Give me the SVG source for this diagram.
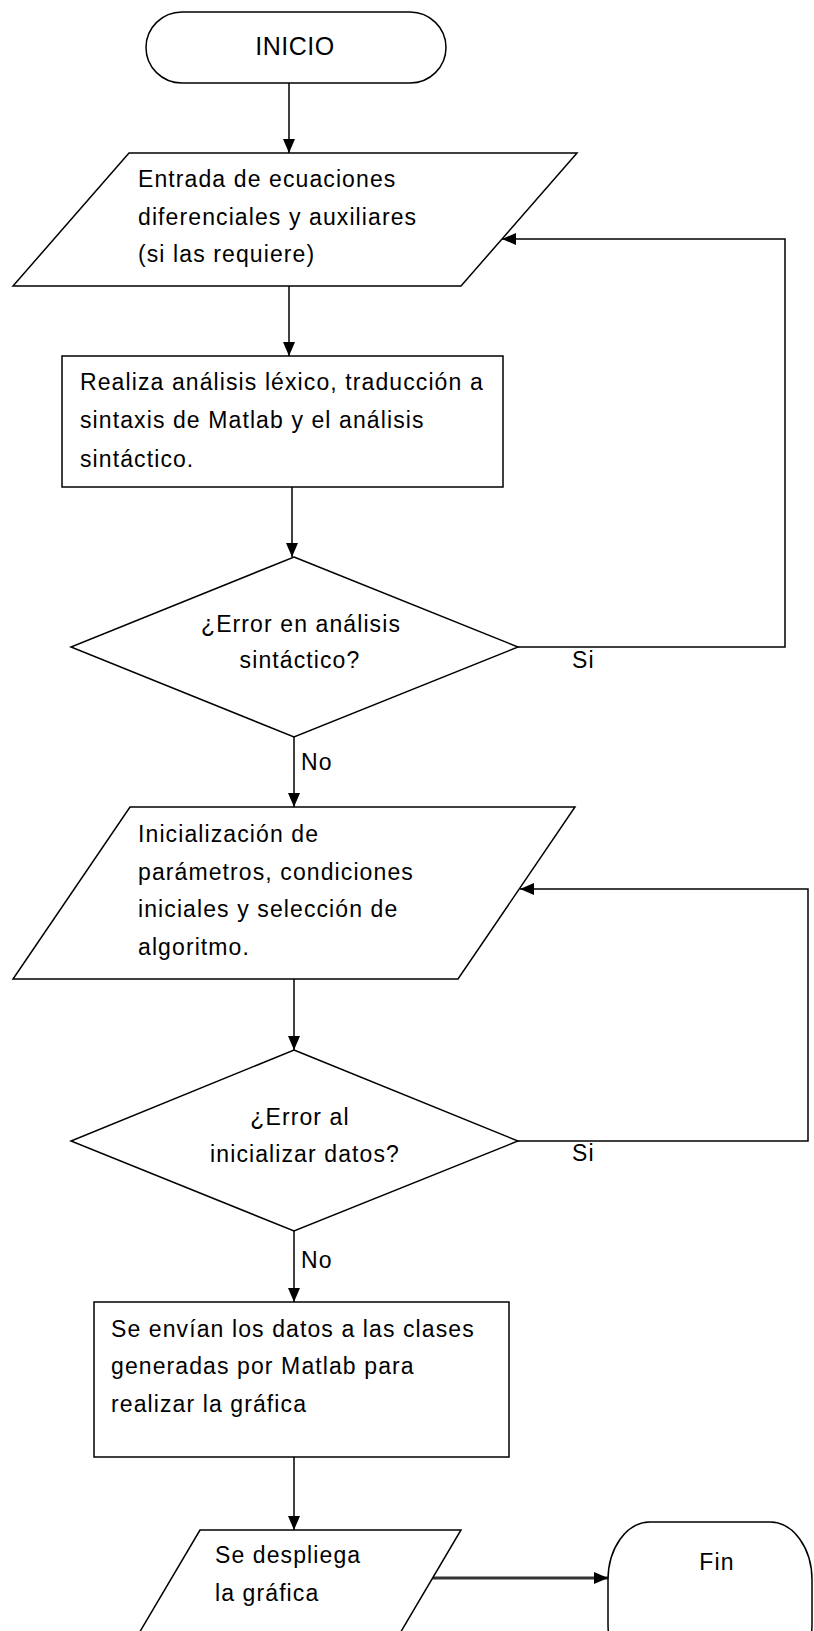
<svg xmlns="http://www.w3.org/2000/svg" width="814" height="1631" viewBox="0 0 814 1631">
<style>
.s{fill:#fff;stroke:#000;stroke-width:1.5}
.c{fill:none;stroke:#000;stroke-width:1.5}
text{font-family:"Liberation Sans",Arial,sans-serif;font-size:23px;letter-spacing:1.1px;fill:#000}
.m{text-anchor:middle}
</style>
<defs>
<marker id="a" markerUnits="userSpaceOnUse" markerWidth="14" markerHeight="12" refX="14" refY="6" orient="auto">
<path d="M0,0 L14,6 L0,12 z" fill="#000"/>
</marker>
</defs>
<rect width="814" height="1631" fill="#fff"/>
<g id="connectors">
<path class="c" d="M289,83 V153" marker-end="url(#a)"/>
<path class="c" d="M289,286 V356" marker-end="url(#a)"/>
<path class="c" d="M292,487 V557" marker-end="url(#a)"/>
<path class="c" d="M518,647 H785 V239 H502" marker-end="url(#a)"/>
<path class="c" d="M294,737 V807" marker-end="url(#a)"/>
<path class="c" d="M294,979 V1050" marker-end="url(#a)"/>
<path class="c" d="M518,1141 H808 V889 H520" marker-end="url(#a)"/>
<path class="c" d="M294,1231 V1302" marker-end="url(#a)"/>
<path class="c" d="M294,1457 V1530" marker-end="url(#a)"/>
<path d="M430,1578 H608" fill="none" stroke="#333" stroke-width="3" marker-end="url(#a)"/>
<text x="572" y="668">Si</text>
<text x="572" y="1161">Si</text>
<text x="301" y="770">No</text>
<text x="301" y="1268">No</text>
</g>
<g id="inicio">
<rect class="s" x="146" y="12" width="300" height="71" rx="36" ry="35.5"/>
<text class="m" x="295" y="55" style="font-size:25px;letter-spacing:0.5px">INICIO</text>
</g>
<g id="entrada">
<polygon class="s" points="129,153 577,153 461,286 13,286"/>
<text x="138" y="187">Entrada de ecuaciones</text>
<text x="138" y="225">diferenciales y auxiliares</text>
<text x="138" y="262">(si las requiere)</text>
</g>
<g id="analisis">
<rect class="s" x="62" y="356" width="441" height="131"/>
<text x="80" y="390">Realiza análisis léxico, traducción a</text>
<text x="80" y="428">sintaxis de Matlab y el análisis</text>
<text x="80" y="467">sintáctico.</text>
</g>
<g id="error1">
<polygon class="s" points="294,557 518,647 294,737 71,647"/>
<text class="m" x="301" y="632">¿Error en análisis</text>
<text class="m" x="300" y="668">sintáctico?</text>
</g>
<g id="inicializacion">
<polygon class="s" points="130,807 575,807 458,979 13,979"/>
<text x="138" y="842">Inicialización de</text>
<text x="138" y="880">parámetros, condiciones</text>
<text x="138" y="917">iniciales y selección de</text>
<text x="138" y="955">algoritmo.</text>
</g>
<g id="error2">
<polygon class="s" points="294,1050 518,1141 294,1231 71,1141"/>
<text class="m" x="300" y="1125">¿Error al</text>
<text class="m" x="305" y="1162">inicializar datos?</text>
</g>
<g id="envio">
<rect class="s" x="94" y="1302" width="415" height="155"/>
<text x="111" y="1337">Se envían los datos a las clases</text>
<text x="111" y="1374">generadas por Matlab para</text>
<text x="111" y="1412">realizar la gráfica</text>
</g>
<g id="despliega">
<polygon class="s" points="200,1530 461,1530 396,1640 135,1640"/>
<text x="215" y="1563">Se despliega</text>
<text x="215" y="1601">la gráfica</text>
</g>
<g id="fin">
<rect class="s" x="608" y="1522" width="204" height="160" rx="42" ry="58"/>
<text class="m" x="717" y="1570">Fin</text>
</g>
</svg>
